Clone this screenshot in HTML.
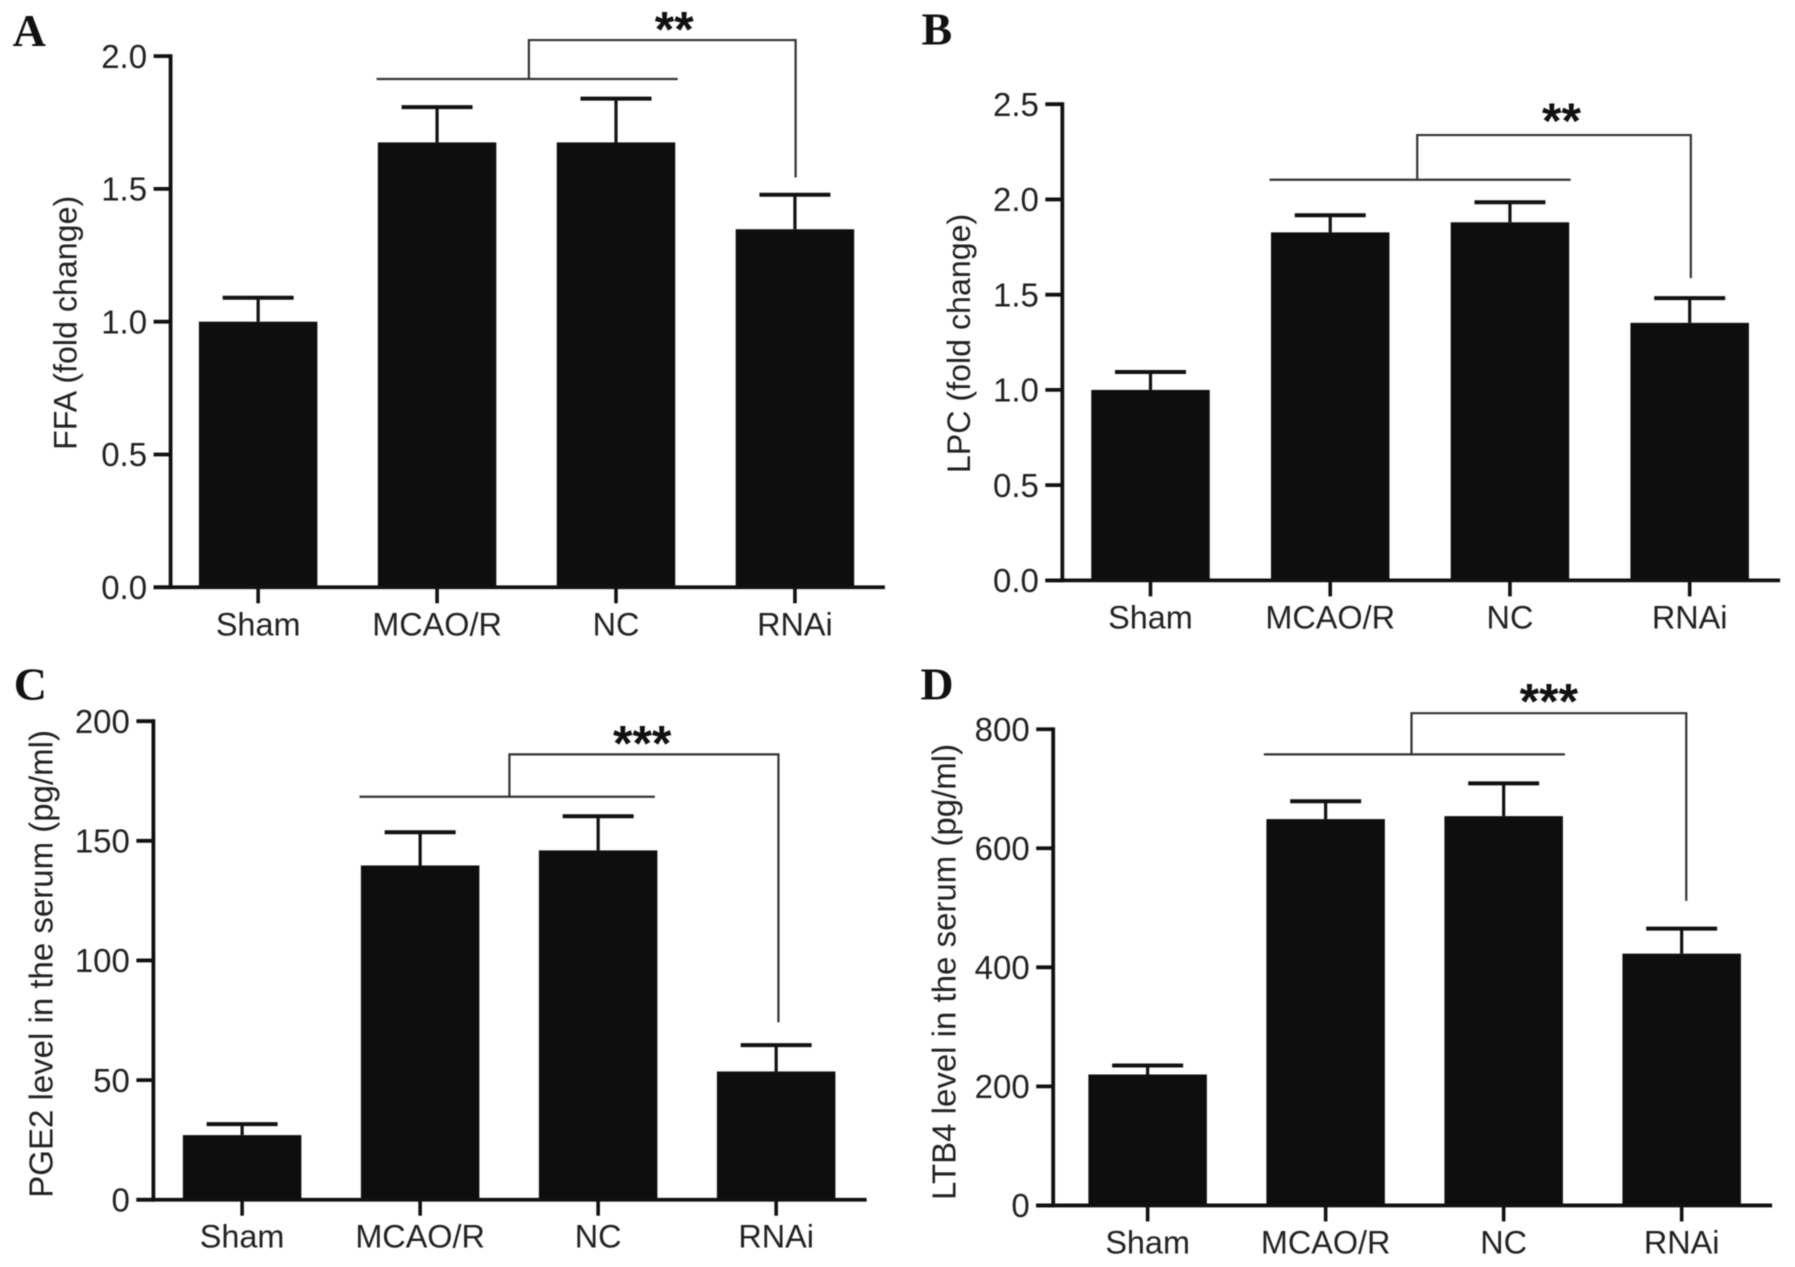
<!DOCTYPE html>
<html><head><meta charset="utf-8"><title>Four-panel bar charts</title>
<style>
html,body{margin:0;padding:0;background:#fff}
svg{display:block;filter:blur(0.6px)}
text{font-family:"Liberation Sans",sans-serif;fill:#222}
.letter{font-family:"Liberation Serif",serif;font-weight:bold;font-size:46px;fill:#111}
.stars{font-weight:bold;font-size:50px;fill:#111}
</style></head>
<body>
<svg id="figure" xmlns="http://www.w3.org/2000/svg" width="1795" height="1267" viewBox="0 0 1795 1267"></svg>
<script>
const categories = ['Sham', 'MCAO/R', 'NC', 'RNAi'];
const ffaValues = [1.0, 1.675, 1.675, 1.348];
const ffaErrors = [0.09, 0.133, 0.165, 0.13];
const ffaTicks = ['0.0', '0.5', '1.0', '1.5', '2.0'];
const lpcValues = [1.0, 1.827, 1.88, 1.352];
const lpcErrors = [0.094, 0.09, 0.105, 0.13];
const lpcTicks = ['0.0', '0.5', '1.0', '1.5', '2.0', '2.5'];
const pgeValues = [27, 139.7, 146, 53.6];
const pgeErrors = [4.6, 13.9, 14.3, 11];
const pgeTicks = ['0', '50', '100', '150', '200'];
const ltbValues = [220, 649, 654, 423];
const ltbErrors = [15, 30, 55, 42];
const ltbTicks = ['0', '200', '400', '600', '800'];

const K = 1795 / 1568;
const NS = 'http://www.w3.org/2000/svg';
const svg = document.getElementById('figure');

function el(parent, tag, attrs, txt) {
  const e = document.createElementNS(NS, tag);
  for (const k in attrs) e.setAttribute(k, attrs[k]);
  if (txt !== undefined) e.textContent = txt;
  parent.appendChild(e);
  return e;
}
function line(parent, x1, y1, x2, y2, w, color, name) {
  const e = el(parent, 'line', {x1: x1, y1: y1, x2: x2, y2: y2, 'stroke-width': w, stroke: color});
  
  
  return e;
}

function drawPanel(p) {
  const g = el(svg, 'g', {});
  
  

  const axisX = p.axisX * K, baseY = p.baseY * K, topY = p.topY * K;
  const yMax = parseFloat(p.ticks[p.ticks.length - 1]);
  const yScale = v => baseY - (v / yMax) * (baseY - topY);
  const xScale = i => (p.firstX + i * p.stepX) * K;
  const barW = 103.5 * K, capW = 62 * K;

  const letter = el(g, 'text', {x: p.letterX * K, y: p.letterY * K, class: 'letter'}, p.letter);
  
  

  categories.forEach((c, i) => {
    const cx = xScale(i);
    const top = yScale(p.values[i]);
    const capY = yScale(p.values[i] + p.errors[i]);
    line(g, cx, top, cx, capY, 3.2, '#111', 'error-stem');
    line(g, cx - capW / 2, capY, cx + capW / 2, capY, 4, '#111', 'error-cap');
    const bar = el(g, 'rect', {x: cx - barW / 2, y: top, width: barW, height: baseY - top, fill: '#0e0e0e'});
    
    
    line(g, cx, baseY, cx, baseY + 16, 3.6, '#111', 'x-tick');
    const lab = el(g, 'text', {x: cx, y: baseY + 48, 'text-anchor': 'middle', 'font-size': 32.4}, c);
    
    
  });

  line(g, axisX, topY - 1.9, axisX, baseY + 1.9, 3.8, '#111', 'y-axis');
  line(g, axisX - 17, baseY, p.axisEnd * K, baseY, 3.8, '#111', 'x-axis');

  p.ticks.forEach(t => {
    const y = yScale(parseFloat(t));
    line(g, axisX - 17, y, axisX, y, 3.8, '#111', 'y-tick');
    const lab = el(g, 'text', {x: axisX - 23.5, y: y + 11.7, 'text-anchor': 'end', 'font-size': 33}, t);
    
    
  });

  const tx = p.titleX * K, ty = p.titleY * K;
  const title = el(g, 'text', {x: tx, y: ty, transform: 'rotate(-90 ' + tx + ' ' + ty + ')', 'text-anchor': 'middle', 'font-size': p.titleSize}, p.title);
  
  

  const b = p.bracket;
  const path = el(g, 'path', {
    d: 'M' + b.left * K + ' ' + b.low * K + 'H' + b.right * K +
       'M' + b.stem * K + ' ' + b.low * K + 'V' + b.high * K + 'H' + b.end * K + 'V' + b.drop * K,
    fill: 'none', stroke: '#333', 'stroke-width': 2.2
  });
  
  
  const stars = el(g, 'text', {x: b.starX * K, y: b.starY * K + 23.5, 'text-anchor': 'middle', class: 'stars'}, b.stars);
  
  
}

drawPanel({letter: 'A', letterX: 11, letterY: 40, values: ffaValues, errors: ffaErrors, ticks: ffaTicks,
  axisX: 149, baseY: 513, topY: 49, axisEnd: 773, firstX: 225.5, stepX: 156.3,
  title: 'FFA (fold change)', titleX: 67, titleY: 282, titleSize: 32.2,
  bracket: {left: 329, right: 592, low: 69, stem: 462, high: 35, end: 695, drop: 155, starX: 589, starY: 20, stars: '**'}});
drawPanel({letter: 'B', letterX: 805, letterY: 39, values: lpcValues, errors: lpcErrors, ticks: lpcTicks,
  axisX: 928, baseY: 507, topY: 91, axisEnd: 1555, firstX: 1005, stepX: 157,
  title: 'LPC (fold change)', titleX: 847.5, titleY: 300, titleSize: 32.2,
  bracket: {left: 1109, right: 1372, low: 157, stem: 1238, high: 118, end: 1477, drop: 243, starX: 1364, starY: 100, stars: '**'}});
drawPanel({letter: 'C', letterX: 12, letterY: 611, values: pgeValues, errors: pgeErrors, ticks: pgeTicks,
  axisX: 134, baseY: 1048, topY: 630, axisEnd: 757, firstX: 211.5, stepX: 155.5,
  title: 'PGE2 level in the serum (pg/ml)', titleX: 46, titleY: 842, titleSize: 33,
  bracket: {left: 314, right: 572, low: 696, stem: 445, high: 659, end: 680, drop: 893, starX: 561, starY: 644, stars: '***'}});
drawPanel({letter: 'D', letterX: 804, letterY: 611, values: ltbValues, errors: ltbErrors, ticks: ltbTicks,
  axisX: 920, baseY: 1053, topY: 637, axisEnd: 1548, firstX: 1002.5, stepX: 155.5,
  title: 'LTB4 level in the serum (pg/ml)', titleX: 834.5, titleY: 849, titleSize: 33,
  bracket: {left: 1104, right: 1367, low: 659, stem: 1233, high: 623, end: 1473, drop: 787, starX: 1353, starY: 607, stars: '***'}});
</script>
</body></html>
